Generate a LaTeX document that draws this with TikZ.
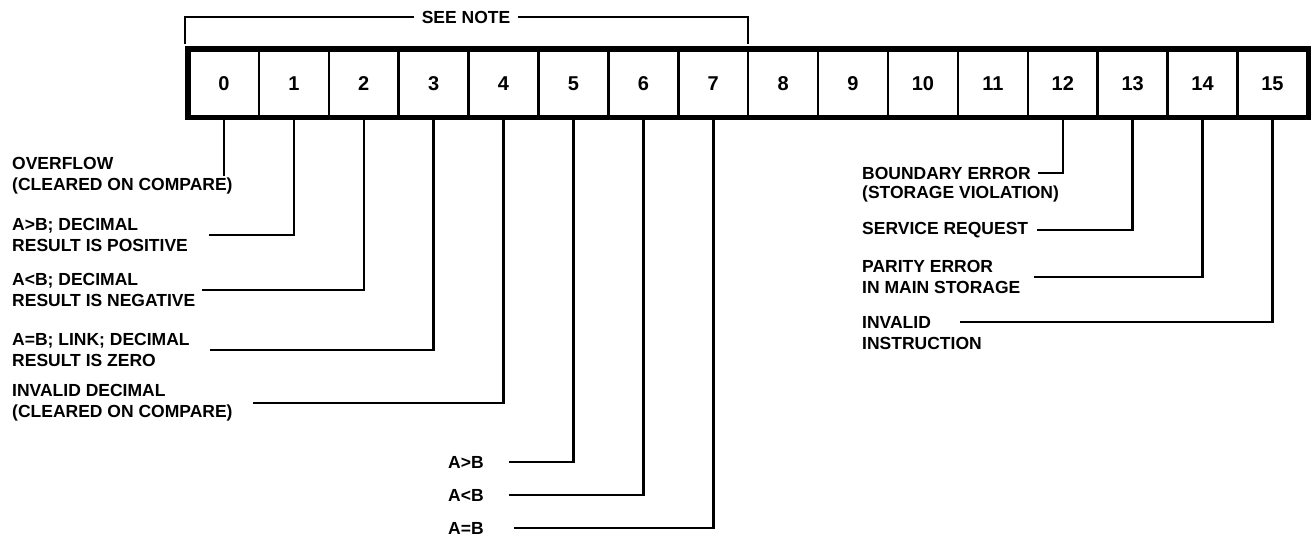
\documentclass[tikz,border=0pt]{standalone}
\usepackage{fontspec}
\setmainfont{Liberation Sans}
\usepackage{tikz}
\usetikzlibrary{positioning}

\begin{document}
\begin{tikzpicture}[x=1pt, y=1pt, font=\fontsize{17.5}{21}\selectfont\bfseries,
  bit/.style={draw, line width=2.5pt, minimum width=69.9pt, minimum height=68.5pt, inner sep=0pt, outer sep=0pt, font=\fontsize{20}{24}\selectfont\bfseries},
  lbl/.style={anchor=west, align=left, inner sep=0pt},
  lead/.style={line width=2.5pt}]
\useasboundingbox (0,0) rectangle (1315,-550);
\node[bit, anchor=west] (c0) at (189,-83.25) {0};
\node[bit, right=0pt of c0] (c1) {1};
\node[bit, right=0pt of c1] (c2) {2};
\node[bit, right=0pt of c2] (c3) {3};
\node[bit, right=0pt of c3] (c4) {4};
\node[bit, right=0pt of c4] (c5) {5};
\node[bit, right=0pt of c5] (c6) {6};
\node[bit, right=0pt of c6] (c7) {7};
\node[bit, right=0pt of c7] (c8) {8};
\node[bit, right=0pt of c8] (c9) {9};
\node[bit, right=0pt of c9] (c10) {10};
\node[bit, right=0pt of c10] (c11) {11};
\node[bit, right=0pt of c11] (c12) {12};
\node[bit, right=0pt of c12] (c13) {13};
\node[bit, right=0pt of c13] (c14) {14};
\node[bit, right=0pt of c14] (c15) {15};
\draw[line width=5.5pt] ([xshift=-1pt]c0.north west) rectangle ([xshift=1pt]c15.south east);

\node[inner xsep=8pt, inner ysep=0pt] (note) at (466,-17) {SEE NOTE};
\draw[lead] (note.west) -| ([xshift=-4pt, yshift=5pt]c0.north west);
\draw[lead] (note.east) -| ([yshift=5pt]c8.north west);

\node[lbl] (ovf) at (12,-176) {OVERFLOW\\(CLEARED ON COMPARE)};
\node[lbl] (pos) at (12,-235) {A>B; DECIMAL\\RESULT IS POSITIVE};
\node[lbl] (neg) at (12,-290) {A<B; DECIMAL\\RESULT IS NEGATIVE};
\node[lbl] (zer) at (12,-350) {A=B; LINK; DECIMAL\\RESULT IS ZERO};
\node[lbl] (ind) at (12,-403) {INVALID DECIMAL\\(CLEARED ON COMPARE)};
\node[lbl] (gt) at (448,-462) {A>B};
\node[lbl] (lt) at (448,-495) {A<B};
\node[lbl] (eq) at (448,-528) {A=B};
\node[lbl] (bnd) at (862,-173) {BOUNDARY ERROR};
\node[lbl] (stv) at (862,-194) {(STORAGE VIOLATION)};
\node[lbl] (srv) at (862,-230) {SERVICE REQUEST};
\node[lbl] (par) at (862,-277) {PARITY ERROR\\IN MAIN STORAGE};
\node[lbl] (inv) at (862,-322) {INVALID};
\node[lbl] (ins) at (862,-343) {INSTRUCTION};

\draw[lead] (c0.south) -- (c0.south |- ovf.center);
\draw[lead] ([xshift=21pt]pos.east) -| (c1.south);
\draw[lead] ([xshift=6pt]neg.east) -| (c2.south);
\draw[lead] ([xshift=20pt]zer.east) -| (c3.south);
\draw[lead] ([xshift=20pt]ind.east) -| (c4.south);
\draw[lead] ([xshift=25pt]gt.east) -| (c5.south);
\draw[lead] ([xshift=25pt]lt.east) -| (c6.south);
\draw[lead] ([xshift=30pt]eq.east) -| (c7.south);
\draw[lead] ([xshift=7pt]bnd.east) -| (c12.south);
\draw[lead] ([xshift=9pt]srv.east) -| (c13.south);
\draw[lead] ([xshift=13pt]par.east) -| (c14.south);
\draw[lead] ([xshift=29pt]inv.east) -| (c15.south);
\end{tikzpicture}
\end{document}
